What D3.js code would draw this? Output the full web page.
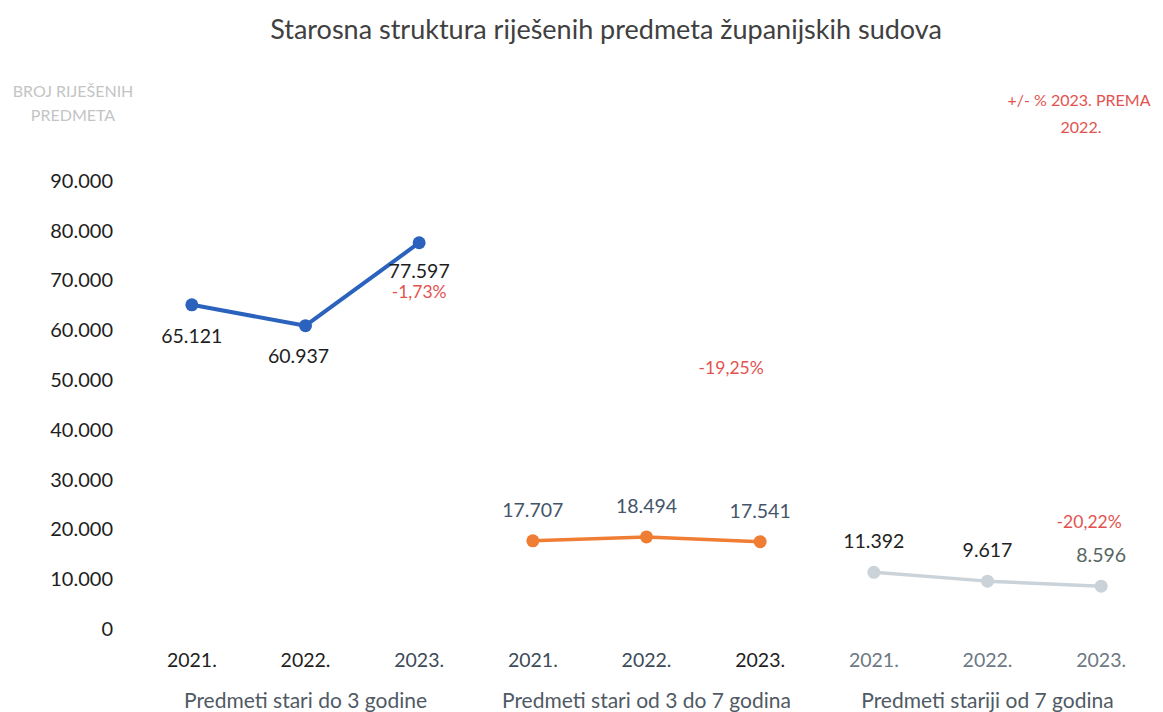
<!DOCTYPE html>
<html>
<head>
<meta charset="utf-8">
<script src="https://cdn.jsdelivr.net/npm/d3@7"></script>
<style>
body { margin: 0; background: #fff; }
text { font-family: Lato, "Open Sans", sans-serif; }
</style>
</head>
<body>
<svg width="1163" height="712"></svg>
<script>
var years = ["2021.", "2022.", "2023."];
var groups = ["Predmeti stari do 3 godine", "Predmeti stari od 3 do 7 godina", "Predmeti stariji od 7 godina"];
var do3 = [65121, 60937, 77597];
var od3do7 = [17707, 18494, 17541];
var stariji7 = [11392, 9617, 8596];
var change = ["-1,73%", "-19,25%", "-20,22%"];
var yTicks = [0, 10000, 20000, 30000, 40000, 50000, 60000, 70000, 80000, 90000];

var series = [
  {vals: do3, color: "#2a62be", width: 4, labelColor: "#1e1e1e", pos: 1},
  {vals: od3do7, color: "#ef7d33", width: 3.5, labelColor: "#44546a", pos: -1},
  {vals: stariji7, color: "#cbd3da", width: 3.5, labelColor: "#222", pos: -1}
];

var svg = d3.select("svg");
var loc = d3.formatLocale({decimal: ",", thousands: ".", grouping: [3], currency: ["", ""]});
var fmt = loc.format(",d");

var keys = [];
groups.forEach(function(g, gi) { years.forEach(function(y) { keys.push(gi + "|" + y); }); });

var x = d3.scaleBand().domain(keys).range([135, 1158]);
var y = d3.scaleLinear().domain([0, 90000]).range([629, 181]);
var cx = function(gi, yi) { return x(gi + "|" + years[yi]) + x.bandwidth() / 2; };

svg.append("text")
  .attr("x", 606).attr("y", 39)
  .attr("text-anchor", "middle")
  .attr("font-size", 27)
  .attr("fill", "#404040")
  .text("Starosna struktura riješenih predmeta županijskih sudova");

svg.append("text").attr("x", 73).attr("y", 97).attr("text-anchor", "middle")
  .attr("font-size", 16).attr("fill", "#c4c4c4").text("BROJ RIJEŠENIH");
svg.append("text").attr("x", 73).attr("y", 121).attr("text-anchor", "middle")
  .attr("font-size", 16).attr("fill", "#c4c4c4").text("PREDMETA");

svg.append("text").attr("x", 1079).attr("y", 106).attr("text-anchor", "middle")
  .attr("font-size", 16).attr("fill", "#e2534f").text("+/- % 2023. PREMA");
svg.append("text").attr("x", 1081).attr("y", 133).attr("text-anchor", "middle")
  .attr("font-size", 16).attr("fill", "#e2534f").text("2022.");

// y axis
var yAxis = svg.append("g")
  .attr("transform", "translate(113,0)")
  .call(d3.axisLeft(y).tickValues(yTicks).tickSize(0).tickPadding(0).tickFormat(function(d) { return fmt(d); }));
yAxis.select(".domain").remove();
yAxis.selectAll("text").attr("font-size", 20).attr("fill", "#1e1e1e").style("font-family", "Lato, sans-serif");

// x axis (years)
var xAxis = svg.append("g")
  .attr("transform", "translate(0,647)")
  .call(d3.axisBottom(x).tickSize(0).tickPadding(6).tickFormat(function(d) { return d.split("|")[1]; }));
xAxis.select(".domain").remove();
xAxis.selectAll("text").attr("font-size", 19.5).attr("fill", function(d, i) {
  return i >= 6 ? "#6d7882" : (i == 2 || i == 3 || i == 4 ? "#3d4a58" : "#1e1e1e");
}).style("font-family", "Lato, sans-serif");

// group labels
svg.selectAll(".grp").data(groups).enter().append("text")
  .attr("class", "grp")
  .attr("x", function(d, i) { return cx(i, 1); })
  .attr("y", 708)
  .attr("text-anchor", "middle")
  .attr("font-size", 21)
  .attr("fill", "#505a64")
  .text(function(d) { return d; });

var line = d3.line();

series.forEach(function(s, gi) {
  var pts = s.vals.map(function(v, yi) { return [cx(gi, yi), y(v)]; });
  svg.append("path")
    .attr("d", line(pts))
    .attr("fill", "none")
    .attr("stroke", s.color)
    .attr("stroke-width", s.width)
    .attr("stroke-linejoin", "round");
  svg.selectAll(".pt" + gi).data(pts).enter().append("circle")
    .attr("class", "pt" + gi)
    .attr("cx", function(d) { return d[0]; })
    .attr("cy", function(d) { return d[1]; })
    .attr("r", 6.5)
    .attr("fill", s.color);
  svg.selectAll(".lbl" + gi).data(s.vals).enter().append("text")
    .attr("class", "lbl" + gi)
    .attr("x", function(d, yi) { return cx(gi, yi) + (gi == 0 && yi == 1 ? -7 : 0); })
    .attr("y", function(d, yi) { return y(d) + s.pos * (gi == 0 && yi == 2 ? 28 : 31); })
    .attr("dy", "0.35em")
    .attr("text-anchor", "middle")
    .attr("font-size", 19.5)
    .attr("fill", function(d, yi) { return gi == 2 && yi == 2 ? "#56675f" : s.labelColor; })
    .text(function(d) { return fmt(d); });
});

// percentage change labels (placed like the original, on the value scale)
var pctAt = [67800, 52400, 21500];
var pctDx = [0, -29, -12];
svg.selectAll(".pct").data(change).enter().append("text")
  .attr("class", "pct")
  .attr("x", function(d, i) { return cx(i, 2) + pctDx[i]; })
  .attr("y", function(d, i) { return y(pctAt[i]); })
  .attr("dy", "0.35em")
  .attr("text-anchor", "middle")
  .attr("font-size", 17.5)
  .attr("fill", "#e2534f")
  .text(function(d) { return d; });
</script>
</body>
</html>
